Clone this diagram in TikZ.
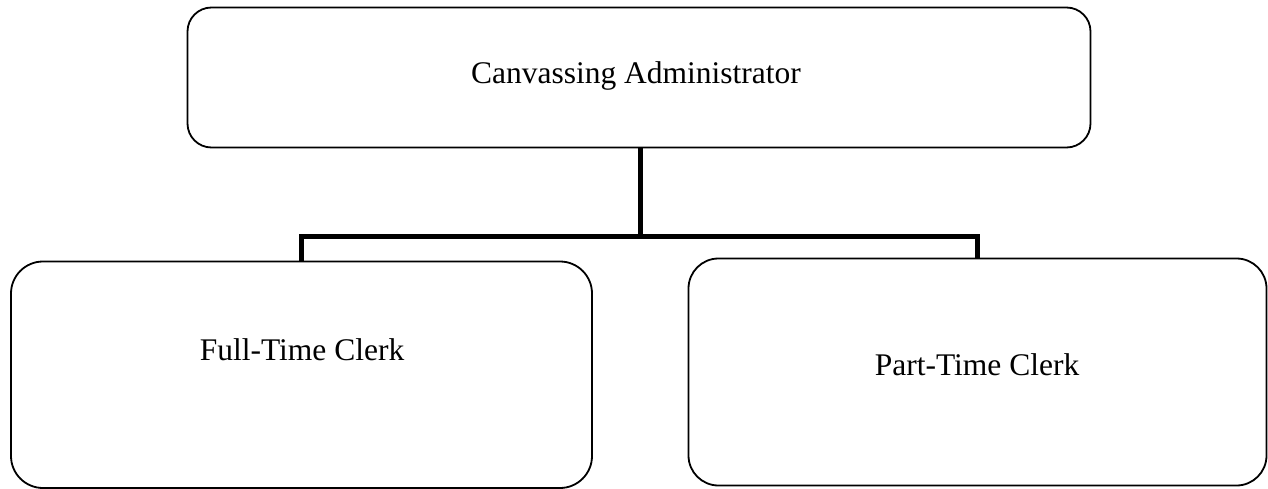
\documentclass[tikz,border=0pt]{standalone}
\usepackage{fontspec}
\setmainfont{Liberation Serif}
\begin{document}
\begin{tikzpicture}[x=1pt,y=-1pt,
  orgbox/.style={draw=black, line width=1.8pt, rounded corners=#1, fill=white,
    inner sep=0pt, outer sep=0pt},
  orgbox/.default=26pt,
  title/.style={font=\fontsize{31.5}{36}\selectfont, anchor=base, inner sep=0pt},
  conn/.style={draw=black, line width=5pt, line join=miter}]
  \useasboundingbox (0,0) rectangle (1268,489);
  % boxes
  \node[orgbox=24pt, minimum width=903pt, minimum height=140pt] (top) at (639,77.5) {};
  \node[orgbox=32pt, minimum width=581pt, minimum height=226.5pt] (left) at (301.5,374.75) {};
  \node[orgbox=30pt, minimum width=578pt, minimum height=227pt] (right) at (977.5,372) {};
  % labels
  \node[title] (ttop) at (636,84) {Canvassing Administrator};
  \node[title] (tleft) at (302,360) {Full-Time Clerk};
  \node[title] (tright) at (977,375) {Part-Time Clerk};
  % connectors
  \coordinate (bus) at (640,236);
  \draw[conn] (top.south -| bus) -- (bus);
  \draw[conn] (left.north) |- (bus) -| (right.north);
\end{tikzpicture}
\end{document}
